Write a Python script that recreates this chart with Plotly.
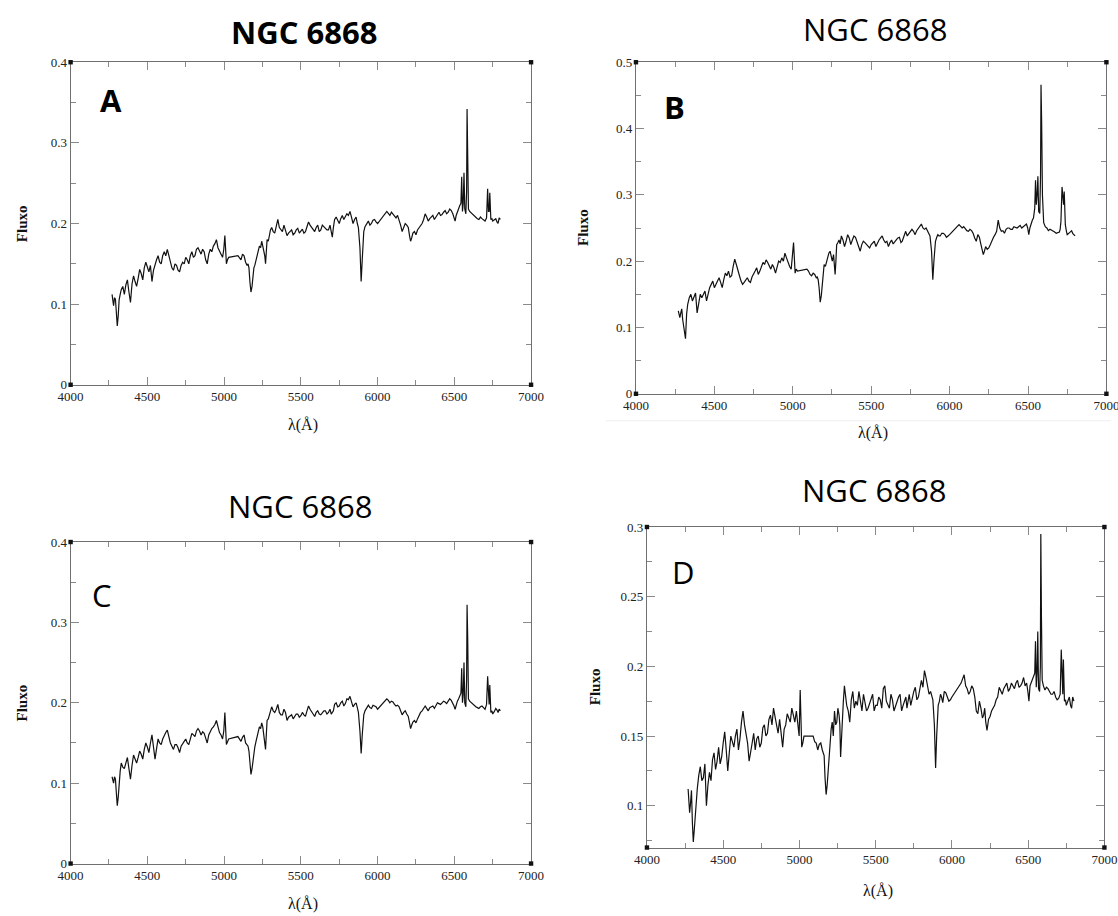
import plotly.graph_objects as go

# Wavelength grid (Angstrom) shared by the four spectra; the gaps near
# 5030-5090 and 6000-6060 are masked regions joined by a straight segment.
wavelength = [
    4270, 4280, 4292, 4304, 4316, 4330, 4350, 4370, 4390, 4410,
    4430, 4450, 4470, 4490, 4510, 4530, 4550, 4570, 4590, 4610,
    4630, 4650, 4670, 4690, 4710, 4730, 4750, 4770, 4790, 4810,
    4830, 4850, 4870, 4890, 4910, 4930, 4950, 4970, 4990, 5005,
    5015, 5030, 5090, 5110, 5130, 5150, 5162, 5175, 5188, 5200,
    5215, 5230, 5245, 5260, 5270, 5280, 5295, 5310, 5330, 5350,
    5370, 5390, 5410, 5430, 5450, 5470, 5490, 5510, 5530, 5550,
    5570, 5590, 5610, 5630, 5650, 5670, 5690, 5705, 5720, 5740,
    5760, 5780, 5800, 5820, 5840, 5860, 5875, 5885, 5893, 5900,
    5910, 5925, 5940, 5960, 5980, 6000, 6060, 6080, 6100, 6120,
    6140, 6160, 6180, 6200, 6215, 6230, 6250, 6270, 6290, 6310,
    6330, 6350, 6370, 6390, 6410, 6430, 6450, 6470, 6490, 6505,
    6520, 6535, 6543, 6548, 6553, 6558, 6563, 6568, 6575, 6580,
    6583, 6587, 6592, 6600, 6620, 6640, 6660, 6680, 6700, 6710,
    6717, 6722, 6727, 6731, 6738, 6750, 6770, 6785, 6800,
]

# Extra continuum samples lying between the grid points above
wavelength_mid = [
    4275, 4286, 4298, 4310, 4323, 4340, 4360, 4380, 4400, 4420,
    4440, 4460, 4480, 4500, 4520, 4540, 4560, 4580, 4600, 4620,
    4640, 4660, 4680, 4700, 4720, 4740, 4760, 4780, 4800, 4820,
    4840, 4860, 4880, 4900, 4920, 4940, 4960, 4980, 4998, 5022,
    5100, 5120, 5140, 5156, 5168, 5182, 5194, 5208, 5222, 5238,
    5252, 5265, 5275, 5288, 5302, 5320, 5340, 5360, 5380, 5400,
    5420, 5440, 5460, 5480, 5500, 5520, 5540, 5560, 5580, 5600,
    5620, 5640, 5660, 5680, 5698, 5712, 5730, 5750, 5770, 5790,
    5810, 5830, 5850, 5868, 5918, 5932, 5950, 5970, 5990, 6070,
    6090, 6110, 6130, 6150, 6170, 6190, 6208, 6222, 6240, 6260,
    6280, 6300, 6320, 6340, 6360, 6380, 6400, 6420, 6440, 6460,
    6480, 6498, 6512, 6528, 6610, 6630, 6650, 6670, 6690, 6705,
    6745, 6760, 6778, 6792,
]

flux_a = [
    0.112, 0.098, 0.106, 0.073, 0.105, 0.118, 0.112, 0.130, 0.102, 0.135,
    0.122, 0.143, 0.130, 0.152, 0.140, 0.128, 0.150, 0.160, 0.150, 0.165,
    0.168, 0.150, 0.142, 0.148, 0.140, 0.152, 0.158, 0.150, 0.165, 0.160,
    0.170, 0.162, 0.165, 0.150, 0.168, 0.172, 0.180, 0.165, 0.158, 0.185,
    0.150, 0.158, 0.160, 0.155, 0.160, 0.148, 0.145, 0.115, 0.135, 0.148,
    0.160, 0.172, 0.178, 0.165, 0.150, 0.180, 0.185, 0.195, 0.188, 0.205,
    0.192, 0.198, 0.185, 0.190, 0.186, 0.192, 0.188, 0.193, 0.190, 0.202,
    0.195, 0.190, 0.198, 0.192, 0.196, 0.192, 0.198, 0.183, 0.205, 0.203,
    0.206, 0.205, 0.212, 0.215, 0.200, 0.208, 0.195, 0.170, 0.128, 0.155,
    0.190, 0.198, 0.203, 0.200, 0.205, 0.200, 0.215, 0.210, 0.212, 0.207,
    0.205, 0.190, 0.200, 0.195, 0.178, 0.188, 0.186, 0.195, 0.200, 0.212,
    0.203, 0.208, 0.205, 0.212, 0.210, 0.214, 0.212, 0.218, 0.212, 0.203,
    0.215, 0.222, 0.225, 0.258, 0.215, 0.225, 0.263, 0.218, 0.212, 0.240,
    0.342, 0.292, 0.218, 0.215, 0.212, 0.207, 0.205, 0.206, 0.203, 0.207,
    0.243, 0.215, 0.215, 0.238, 0.205, 0.203, 0.206, 0.200, 0.205,
]
flux_a_mid = [
    0.104, 0.108, 0.090, 0.085, 0.112, 0.122, 0.124, 0.115, 0.125, 0.128,
    0.132, 0.138, 0.145, 0.146, 0.148, 0.142, 0.155, 0.152, 0.160, 0.160,
    0.160, 0.145, 0.150, 0.142, 0.148, 0.150, 0.155, 0.160, 0.158, 0.168,
    0.165, 0.168, 0.155, 0.162, 0.165, 0.175, 0.170, 0.162, 0.168, 0.155,
    0.158, 0.162, 0.152, 0.150, 0.128, 0.122, 0.145, 0.155, 0.168, 0.170,
    0.172, 0.160, 0.165, 0.178, 0.192, 0.190, 0.198, 0.195, 0.190, 0.192,
    0.188, 0.192, 0.188, 0.194, 0.190, 0.188, 0.196, 0.198, 0.193, 0.195,
    0.190, 0.198, 0.195, 0.192, 0.190, 0.195, 0.208, 0.200, 0.210, 0.208,
    0.210, 0.208, 0.205, 0.200, 0.196, 0.200, 0.198, 0.204, 0.202, 0.212,
    0.214, 0.209, 0.210, 0.198, 0.195, 0.198, 0.185, 0.182, 0.190, 0.192,
    0.198, 0.205, 0.208, 0.206, 0.210, 0.208, 0.214, 0.211, 0.216, 0.214,
    0.216, 0.208, 0.210, 0.218, 0.213, 0.210, 0.206, 0.208, 0.205, 0.205,
    0.206, 0.205, 0.202, 0.207,
]

flux_b = [
    0.125, 0.115, 0.128, 0.100, 0.083, 0.135, 0.150, 0.145, 0.122, 0.150,
    0.150, 0.140, 0.160, 0.170, 0.165, 0.175, 0.160, 0.182, 0.185, 0.178,
    0.203, 0.185, 0.170, 0.168, 0.175, 0.168, 0.182, 0.190, 0.185, 0.198,
    0.202, 0.192, 0.195, 0.182, 0.200, 0.205, 0.212, 0.198, 0.188, 0.228,
    0.182, 0.185, 0.188, 0.180, 0.182, 0.175, 0.172, 0.138, 0.165, 0.195,
    0.200, 0.212, 0.205, 0.210, 0.180, 0.225, 0.232, 0.238, 0.222, 0.240,
    0.225, 0.238, 0.228, 0.215, 0.230, 0.225, 0.220, 0.228, 0.222, 0.232,
    0.238, 0.228, 0.222, 0.232, 0.230, 0.235, 0.228, 0.235, 0.245, 0.242,
    0.248, 0.240, 0.250, 0.256, 0.248, 0.245, 0.238, 0.215, 0.172, 0.200,
    0.230, 0.240, 0.238, 0.242, 0.236, 0.240, 0.255, 0.250, 0.248, 0.245,
    0.246, 0.235, 0.240, 0.225, 0.210, 0.222, 0.220, 0.232, 0.240, 0.262,
    0.245, 0.242, 0.250, 0.248, 0.252, 0.250, 0.254, 0.252, 0.256, 0.240,
    0.258, 0.265, 0.280, 0.322, 0.285, 0.300, 0.328, 0.275, 0.272, 0.330,
    0.466, 0.410, 0.300, 0.258, 0.250, 0.248, 0.245, 0.242, 0.244, 0.260,
    0.312, 0.300, 0.285, 0.305, 0.255, 0.240, 0.245, 0.242, 0.238,
]
flux_b_mid = [
    0.118, 0.122, 0.112, 0.092, 0.120, 0.145, 0.140, 0.152, 0.138, 0.145,
    0.155, 0.150, 0.165, 0.160, 0.172, 0.168, 0.172, 0.178, 0.176, 0.192,
    0.195, 0.178, 0.165, 0.172, 0.170, 0.176, 0.185, 0.180, 0.192, 0.195,
    0.198, 0.188, 0.190, 0.192, 0.198, 0.200, 0.205, 0.192, 0.205, 0.188,
    0.185, 0.178, 0.180, 0.176, 0.160, 0.148, 0.182, 0.192, 0.205, 0.215,
    0.200, 0.198, 0.200, 0.228, 0.226, 0.232, 0.230, 0.235, 0.232, 0.236,
    0.222, 0.225, 0.228, 0.222, 0.225, 0.230, 0.228, 0.235, 0.232, 0.230,
    0.228, 0.226, 0.232, 0.236, 0.230, 0.240, 0.238, 0.246, 0.245, 0.246,
    0.252, 0.250, 0.250, 0.242, 0.236, 0.238, 0.242, 0.240, 0.238, 0.252,
    0.252, 0.246, 0.248, 0.242, 0.230, 0.236, 0.218, 0.215, 0.218, 0.225,
    0.236, 0.245, 0.250, 0.246, 0.248, 0.250, 0.248, 0.251, 0.252, 0.250,
    0.255, 0.250, 0.250, 0.262, 0.252, 0.246, 0.247, 0.244, 0.243, 0.248,
    0.245, 0.242, 0.246, 0.240,
]

flux_c = [
    0.108, 0.100, 0.105, 0.072, 0.100, 0.125, 0.118, 0.132, 0.105, 0.135,
    0.125, 0.140, 0.130, 0.150, 0.138, 0.160, 0.130, 0.155, 0.148, 0.160,
    0.166, 0.150, 0.142, 0.148, 0.138, 0.150, 0.155, 0.148, 0.162, 0.158,
    0.168, 0.160, 0.162, 0.150, 0.165, 0.170, 0.178, 0.163, 0.155, 0.188,
    0.148, 0.155, 0.158, 0.152, 0.160, 0.148, 0.140, 0.111, 0.130, 0.145,
    0.158, 0.170, 0.175, 0.160, 0.142, 0.178, 0.185, 0.195, 0.188, 0.198,
    0.185, 0.192, 0.178, 0.183, 0.180, 0.186, 0.182, 0.188, 0.183, 0.196,
    0.188, 0.183, 0.190, 0.185, 0.190, 0.186, 0.192, 0.188, 0.198, 0.195,
    0.200, 0.196, 0.205, 0.208, 0.195, 0.200, 0.188, 0.165, 0.137, 0.160,
    0.185, 0.192, 0.197, 0.193, 0.196, 0.192, 0.205, 0.200, 0.201, 0.196,
    0.195, 0.185, 0.190, 0.183, 0.168, 0.176, 0.175, 0.185, 0.190, 0.196,
    0.190, 0.195, 0.193, 0.200, 0.198, 0.202, 0.199, 0.205, 0.200, 0.192,
    0.202, 0.208, 0.212, 0.243, 0.200, 0.210, 0.250, 0.200, 0.195, 0.230,
    0.322, 0.282, 0.205, 0.202, 0.198, 0.195, 0.193, 0.196, 0.192, 0.198,
    0.233, 0.200, 0.198, 0.222, 0.188, 0.186, 0.193, 0.188, 0.190,
]
flux_c_mid = [
    0.102, 0.108, 0.088, 0.082, 0.115, 0.120, 0.126, 0.118, 0.122, 0.130,
    0.132, 0.136, 0.142, 0.145, 0.150, 0.145, 0.143, 0.150, 0.155, 0.163,
    0.158, 0.146, 0.148, 0.144, 0.146, 0.152, 0.150, 0.156, 0.160, 0.165,
    0.165, 0.164, 0.156, 0.160, 0.168, 0.173, 0.170, 0.160, 0.165, 0.152,
    0.155, 0.157, 0.150, 0.146, 0.125, 0.118, 0.140, 0.152, 0.165, 0.168,
    0.170, 0.150, 0.160, 0.180, 0.190, 0.190, 0.192, 0.188, 0.185, 0.188,
    0.182, 0.185, 0.183, 0.186, 0.184, 0.185, 0.190, 0.192, 0.186, 0.188,
    0.186, 0.188, 0.190, 0.188, 0.186, 0.190, 0.200, 0.196, 0.202, 0.199,
    0.204, 0.202, 0.198, 0.194, 0.190, 0.194, 0.194, 0.197, 0.195, 0.203,
    0.202, 0.198, 0.197, 0.190, 0.188, 0.186, 0.175, 0.172, 0.178, 0.180,
    0.188, 0.194, 0.193, 0.194, 0.196, 0.197, 0.199, 0.200, 0.201, 0.202,
    0.203, 0.196, 0.198, 0.205, 0.200, 0.197, 0.194, 0.195, 0.194, 0.195,
    0.190, 0.189, 0.191, 0.192,
]

flux_d = [
    0.112, 0.095, 0.111, 0.074, 0.092, 0.112, 0.128, 0.120, 0.100, 0.124,
    0.133, 0.126, 0.142, 0.135, 0.153, 0.125, 0.150, 0.142, 0.155, 0.148,
    0.168, 0.152, 0.132, 0.145, 0.140, 0.150, 0.145, 0.158, 0.152, 0.165,
    0.170, 0.158, 0.162, 0.142, 0.158, 0.163, 0.170, 0.160, 0.155, 0.183,
    0.142, 0.150, 0.150, 0.145, 0.144, 0.140, 0.136, 0.108, 0.125, 0.148,
    0.160, 0.168, 0.160, 0.165, 0.135, 0.165, 0.186, 0.172, 0.160, 0.182,
    0.175, 0.182, 0.168, 0.175, 0.170, 0.178, 0.168, 0.172, 0.176, 0.184,
    0.175, 0.170, 0.176, 0.172, 0.178, 0.168, 0.175, 0.170, 0.180, 0.178,
    0.185, 0.178, 0.190, 0.197, 0.186, 0.182, 0.176, 0.158, 0.127, 0.150,
    0.172, 0.180, 0.174, 0.181, 0.175, 0.178, 0.188, 0.194, 0.184, 0.182,
    0.184, 0.168, 0.175, 0.163, 0.170, 0.154, 0.164, 0.170, 0.176, 0.185,
    0.180, 0.186, 0.182, 0.188, 0.184, 0.190, 0.186, 0.192, 0.188, 0.175,
    0.188, 0.192, 0.195, 0.218, 0.185, 0.195, 0.225, 0.184, 0.182, 0.200,
    0.295, 0.236, 0.190, 0.186, 0.185, 0.182, 0.180, 0.178, 0.177, 0.180,
    0.212, 0.185, 0.180, 0.205, 0.175, 0.172, 0.178, 0.170, 0.175,
]
flux_d_mid = [
    0.104, 0.102, 0.088, 0.082, 0.108, 0.122, 0.118, 0.130, 0.115, 0.118,
    0.138, 0.132, 0.130, 0.145, 0.140, 0.138, 0.146, 0.150, 0.140, 0.160,
    0.158, 0.145, 0.140, 0.152, 0.148, 0.142, 0.156, 0.150, 0.162, 0.158,
    0.164, 0.152, 0.150, 0.155, 0.166, 0.160, 0.165, 0.168, 0.150, 0.145,
    0.146, 0.140, 0.145, 0.138, 0.120, 0.115, 0.138, 0.155, 0.150, 0.158,
    0.170, 0.158, 0.150, 0.175, 0.178, 0.168, 0.176, 0.170, 0.172, 0.175,
    0.180, 0.168, 0.174, 0.180, 0.172, 0.178, 0.170, 0.186, 0.172, 0.180,
    0.168, 0.175, 0.180, 0.172, 0.178, 0.176, 0.172, 0.182, 0.176, 0.186,
    0.185, 0.192, 0.180, 0.178, 0.175, 0.178, 0.182, 0.178, 0.176, 0.192,
    0.186, 0.180, 0.186, 0.178, 0.166, 0.170, 0.165, 0.160, 0.162, 0.168,
    0.172, 0.178, 0.182, 0.184, 0.188, 0.184, 0.186, 0.188, 0.185, 0.188,
    0.186, 0.182, 0.186, 0.190, 0.183, 0.184, 0.180, 0.182, 0.176, 0.178,
    0.176, 0.175, 0.172, 0.178,
]

panel_titles = ["NGC 6868", "NGC 6868", "NGC 6868", "NGC 6868"]
panel_letters = ["A", "B", "C", "D"]
x_label = "λ(Å)"
y_label = "Fluxo"

# Figure size and the mapping from screen pixels to paper fractions
# (page body margin of 8 px, view shown slightly zoomed out).
W, H = 1124, 916
PAD = 8
SX, OX = 0.978, 1.5
SY, OY = 0.982, 0.0


def fx(p):
    return min(1.0, max(0.0, ((p - OX) / SX - PAD) / W))


def fy(p):
    return min(1.0, max(0.0, 1 - ((p - OY) / SY - PAD) / H))


def merged(main, mid):
    """Combine grid and in-between samples into one wavelength-ordered series."""
    pts = sorted(zip(wavelength + wavelength_mid, main + mid))
    return [w for w, _ in pts], [f for _, f in pts]


# Per-panel frame in screen pixels: left, right, top, bottom
panels = [
    dict(flux=(flux_a, flux_a_mid), box=(67, 528, 63, 385), yr=(0, 0.4), dt=0.1, mdt=0.05,
         title=(301, 33, True), letter=(107, 101, True), fl=18, xt=(300, 425)),
    dict(flux=(flux_b, flux_b_mid), box=(633, 1104, 63, 394), yr=(0, 0.5), dt=0.1, mdt=0.05,
         title=(872, 30, False), letter=(672, 108, True), fl=580, xt=(870, 433)),
    dict(flux=(flux_c, flux_c_mid), box=(67, 528, 542, 863), yr=(0, 0.4), dt=0.1, mdt=0.05,
         title=(297, 506, False), letter=(98, 595, False), fl=18, xt=(300, 903)),
    dict(flux=(flux_d, flux_d_mid), box=(644, 1102, 527, 847), yr=(0.07, 0.3), dt=0.05, mdt=0.025,
         title=(871, 490, False), letter=(681, 572, False), fl=592, xt=(875, 890)),
]

fig = go.Figure()
annotations = []
shapes = []
tick_font = dict(family="Liberation Serif, Times New Roman, serif", size=13, color="#222")
frame = "#707070"

for i, p in enumerate(panels):
    n = "" if i == 0 else str(i + 1)
    xa, ya = "x" + n, "y" + n
    l, r, t, b = p["box"]
    wl, fl = merged(*p["flux"])
    fig.add_trace(go.Scatter(
        x=wl, y=fl, mode="lines",
        line=dict(color="#111111", width=1.2),
        xaxis=xa, yaxis=ya, showlegend=False, hoverinfo="x+y",
    ))
    common = dict(
        showline=True, linecolor=frame, linewidth=1, mirror="ticks",
        ticks="inside", tickcolor="#8a8a8a", ticklen=8, tickwidth=1,
        showgrid=False, zeroline=False, tickfont=tick_font,
    )
    fig.layout["xaxis" + n] = dict(
        domain=[fx(l), fx(r)], range=[4000, 7000], dtick=500, tick0=4000,
        anchor=ya,
        minor=dict(ticks="inside", dtick=250, ticklen=5, tickcolor="#8a8a8a"),
        **common,
    )
    fig.layout["yaxis" + n] = dict(
        domain=[fy(b), fy(t)], range=list(p["yr"]), dtick=p["dt"], tick0=0,
        anchor=xa,
        minor=dict(ticks="inside", dtick=p["mdt"], ticklen=5, tickcolor="#8a8a8a"),
        **common,
    )

    # small filled squares at the frame corners
    s = 2.2
    for cx in (l, r):
        for cy in (t, b):
            shapes.append(dict(
                type="rect", xref="paper", yref="paper",
                x0=fx(cx - s), x1=fx(cx + s), y0=fy(cy + s), y1=fy(cy - s),
                fillcolor="#111", line=dict(width=0),
            ))

    tx, ty, tbold = p["title"]
    annotations.append(dict(
        text=("<b>%s</b>" % panel_titles[i]) if tbold else panel_titles[i],
        x=fx(tx), y=fy(ty), xref="paper", yref="paper",
        xanchor="center", yanchor="middle", showarrow=False,
        font=dict(family="Open Sans, sans-serif", size=31, color="#000"),
    ))
    lx, ly, lbold = p["letter"]
    annotations.append(dict(
        text=("<b>%s</b>" % panel_letters[i]) if lbold else panel_letters[i],
        x=fx(lx), y=fy(ly), xref="paper", yref="paper",
        xanchor="center", yanchor="middle", showarrow=False,
        font=dict(family="Open Sans, sans-serif", size=31, color="#000"),
    ))
    annotations.append(dict(
        text="<b>%s</b>" % y_label, textangle=-90,
        x=fx(p["fl"]), y=fy((t + b) / 2), xref="paper", yref="paper",
        xanchor="center", yanchor="middle", showarrow=False,
        font=dict(family="Liberation Serif, Times New Roman, serif", size=15, color="#111"),
    ))
    annotations.append(dict(
        text=x_label,
        x=fx(p["xt"][0]), y=fy(p["xt"][1]), xref="paper", yref="paper",
        xanchor="center", yanchor="middle", showarrow=False,
        font=dict(family="Liberation Serif, Times New Roman, serif", size=16, color="#111"),
    ))

# faint rule under the upper-right panel
shapes.append(dict(type="line", xref="paper", yref="paper",
                   x0=fx(603), x1=1, y0=fy(421), y1=fy(421),
                   line=dict(color="#eeeeee", width=1)))

fig.update_layout(
    width=W, height=H, margin=dict(l=0, r=0, t=0, b=0),
    paper_bgcolor="white", plot_bgcolor="white",
    annotations=annotations, shapes=shapes,
)

fig.write_html("out.html")
